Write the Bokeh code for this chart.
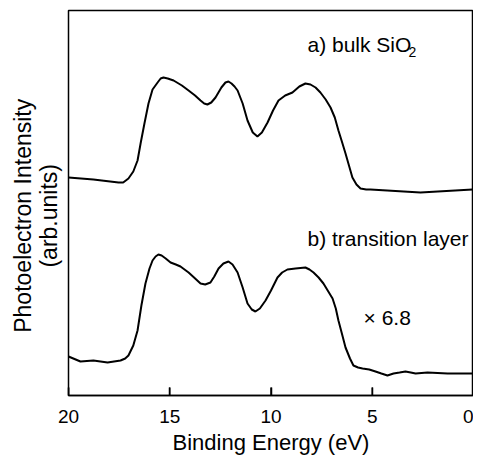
from bokeh.plotting import figure
from bokeh.models import Range1d, Label, FixedTicker
from bokeh.embed import file_html
from bokeh.resources import INLINE

# Binding energy (eV) and intensity (arb. units)
energy_a = [20.00, 18.77, 17.53, 17.30, 17.04, 16.80, 16.59, 16.44, 16.25, 16.05, 15.85,
            15.60, 15.45, 15.31, 15.10, 14.81, 14.40, 14.07, 13.75, 13.48, 13.30, 13.14,
            12.95, 12.74, 12.45, 12.25, 12.10, 11.95, 11.80, 11.65, 11.40, 11.16, 10.90,
            10.67, 10.45, 10.17, 9.90, 9.63, 9.30, 8.94, 8.60, 8.30, 8.05, 7.80, 7.56,
            7.30, 7.06, 6.85, 6.67, 6.50, 6.32, 6.15, 5.98, 5.78, 5.58, 5.30, 5.09,
            2.62, 0.05]
intensity_a = [218, 216, 213, 213, 217, 224, 235, 252, 272, 292, 306,
               313, 317, 318, 317, 315, 310, 305, 300, 295, 292, 291,
               293, 298, 308, 313, 314, 312, 309, 305, 292, 275, 263,
               259, 263, 273, 285, 295, 300, 303, 309, 312, 311, 308, 303,
               296, 288, 278, 265, 254, 242, 230, 218, 211, 207, 206, 206,
               203, 206]

energy_b = [20.00, 19.41, 18.77, 18.07, 17.43, 17.20, 17.04, 16.80, 16.59, 16.40, 16.20,
            16.00, 15.85, 15.70, 15.56, 15.40, 15.20, 14.96, 14.70, 14.47, 14.27, 14.07,
            13.80, 13.48, 13.25, 12.99, 12.80, 12.59, 12.35, 12.10, 11.90, 11.65, 11.40,
            11.16, 10.95, 10.77, 10.55, 10.27, 10.00, 9.68, 9.45, 9.19, 8.79, 8.30, 8.10,
            7.90, 7.65, 7.41, 7.20, 6.96, 6.80, 6.67, 6.50, 6.32, 6.10, 5.93, 5.70,
            5.48, 5.15, 4.84, 4.55, 4.25, 3.95, 3.65, 3.36, 3.10, 2.86, 2.27, 1.28, 0.05]
intensity_b = [39, 34, 35, 33, 35, 37, 40, 50, 65, 90, 112,
               127, 135, 139, 141, 140, 137, 133, 131, 129, 126, 123,
               118, 112, 111, 113, 119, 127, 132, 134, 131, 123, 108,
               92, 86, 84, 87, 95, 105, 118, 123, 126, 127, 128, 126,
               123, 118, 112, 105, 97, 87, 75, 62, 48, 37, 30, 28,
               27, 26, 24, 22, 20, 22, 23, 24, 23, 22, 23, 22, 22]

x_ticks = [20, 15, 10, 5, 0]
label_a = "a) bulk SiO"
label_a_sub = "2"
label_b = "b) transition layer"
label_scale = "\u00d7 6.8"
y_title = "Photoelectron Intensity\u00a0\u00a0\u00a0\u00a0\n(arb.units)\u00a0\u00a0\u00a0\u00a0"

FONT = "Liberation Sans"

p = figure(frame_width=405, frame_height=385, output_backend="svg", toolbar_location=None,
           x_range=Range1d(20, 0), y_range=Range1d(0, 385),
           min_border_left=68, min_border_right=0, min_border_top=10, min_border_bottom=60)
p.background_fill_color = "white"
p.border_fill_color = "white"
p.outline_line_color = "black"
p.outline_line_width = 1.5
p.xgrid.visible = False
p.ygrid.visible = False

p.line(energy_a, intensity_a, line_color="black", line_width=2)
p.line(energy_b, intensity_b, line_color="black", line_width=2)

# inward tick marks at the tick positions (8 px long; 1 data unit = 1 px here)
p.segment(x0=x_ticks, y0=[0] * len(x_ticks), x1=x_ticks, y1=[8] * len(x_ticks),
          line_color="black", line_width=1.5)

xa = p.xaxis[0]
xa.ticker = FixedTicker(ticks=x_ticks)
xa.major_tick_in = 8
xa.major_tick_out = 0
xa.minor_tick_line_color = None
xa.axis_line_width = 1.5
xa.major_tick_line_width = 1.5
xa.major_tick_line_color = "black"
xa.major_label_text_font = FONT
xa.major_label_text_font_size = "19px"
xa.major_label_text_color = "black"
xa.major_label_standoff = 14
xa.axis_label = "Binding Energy (eV)"
xa.axis_label_text_font = FONT
xa.axis_label_text_font_size = "22px"
xa.axis_label_text_font_style = "normal"
xa.axis_label_text_color = "black"
xa.axis_label_standoff = 4

ya = p.yaxis[0]
ya.ticker = FixedTicker(ticks=[])
ya.axis_line_color = None
ya.major_tick_line_color = None
ya.minor_tick_line_color = None
ya.major_label_text_font_size = "0px"
ya.axis_label = y_title
ya.axis_label_text_font = FONT
ya.axis_label_text_font_size = "23px"
ya.axis_label_text_line_height = 1.0
ya.axis_label_text_font_style = "normal"
ya.axis_label_text_color = "black"
ya.axis_label_standoff = 7

for txt, x, y, size in [(label_a, 8.20, 351, "21px"), (label_b, 8.20, 157, "21px"),
                        (label_scale, 5.43, 78, "21px")]:
    p.add_layout(Label(x=x, y=y, text=txt, text_font=FONT, text_font_size=size,
                       text_baseline="middle", text_align="left", text_color="black"))
p.add_layout(Label(x=3.21, y=344, text=label_a_sub, text_font=FONT, text_font_size="14px",
                   text_baseline="middle", text_align="left", text_color="black"))

open("out.html", "w").write(file_html(p, INLINE))
